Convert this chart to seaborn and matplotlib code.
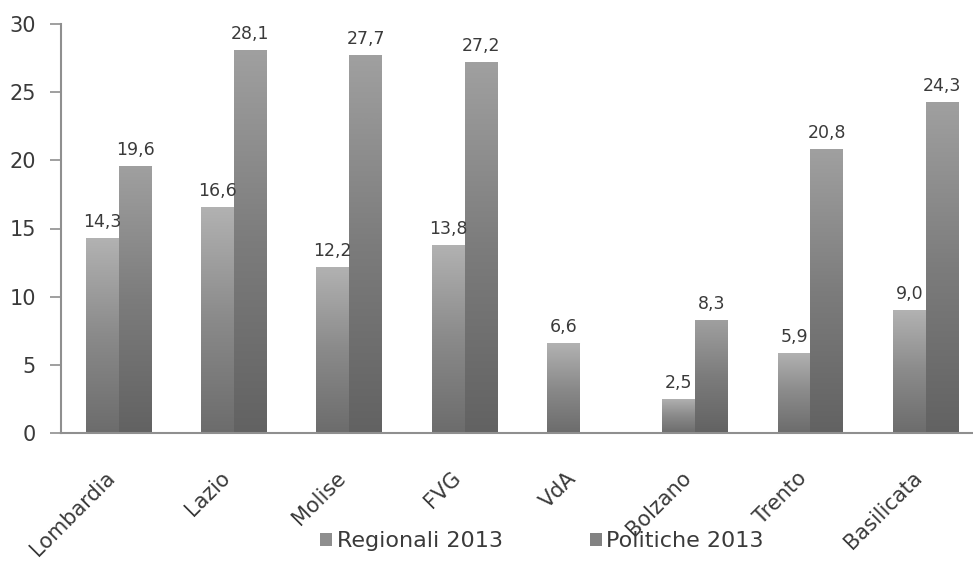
import numpy as np
import pandas as pd
import matplotlib.pyplot as plt
import seaborn as sns
from matplotlib.colors import LinearSegmentedColormap
from matplotlib.patches import Patch
from matplotlib.ticker import FixedLocator

# Dati
regioni = ['Lombardia', 'Lazio', 'Molise', 'FVG', 'VdA', 'Bolzano', 'Trento', 'Basilicata']
regionali_2013 = [14.3, 16.6, 12.2, 13.8, 6.6, 2.5, 5.9, 9.0]
politiche_2013 = [19.6, 28.1, 27.7, 27.2, np.nan, 8.3, 20.8, 24.3]
serie = ['Regionali 2013', 'Politiche 2013']

df = pd.DataFrame({
    'regione': regioni * 2,
    'serie': [serie[0]] * len(regioni) + [serie[1]] * len(regioni),
    'valore': regionali_2013 + politiche_2013,
})

sns.set_style('white')
plt.rcParams['font.family'] = ['DejaVu Sans']
testo = '#3a3a3a'
asse = '#8f8f8f'

fig = plt.figure(figsize=(9.73, 5.61), dpi=100)
ax = fig.add_axes([61 / 973, 1 - 433 / 561, 1 - 61 / 973, (433 - 24) / 561])

sns.barplot(data=df, x='regione', y='valore', hue='serie', hue_order=serie,
            order=regioni, palette=['#909090', '#808080'], width=0.57,
            dodge=True, legend=False, ax=ax, saturation=1)

# Gradiente verticale su ogni barra (chiaro in alto, scuro in basso)
cmaps = [
    LinearSegmentedColormap.from_list('reg', ['#6c6c6c', '#8a8a8a', '#b2b2b2']),
    LinearSegmentedColormap.from_list('pol', ['#626262', '#7c7c7c', '#a0a0a0']),
]
grad = np.linspace(0, 1, 256).reshape(-1, 1)
for i, cont in enumerate(ax.containers):
    for p in cont.patches:
        if np.isnan(p.get_height()) or p.get_height() == 0:
            continue
        x0, y0, x1, y1 = p.get_bbox().extents
        im = ax.imshow(grad, extent=[x0, x1, y0, y1], origin='lower', aspect='auto',
                       cmap=cmaps[i], vmin=0, vmax=1, zorder=p.get_zorder() + 0.1)
        im.set_clip_path(p)
    ax.bar_label(cont, labels=[('' if np.isnan(v) else f'{v:.1f}'.replace('.', ','))
                               for v in cont.datavalues],
                 padding=5, fontsize=12.5, color=testo)

ax.set_xlim(-0.5, -0.5 + (973 - 61) / 115.3)
ax.set_ylim(0, 30)
ax.set_yticks(range(0, 31, 5))
ax.set_xlabel('')
ax.set_ylabel('')

# tacche sui confini tra categorie
ax.xaxis.set_minor_locator(FixedLocator(np.arange(-0.5, len(regioni), 1.0)))
ax.tick_params(axis='x', which='major', length=0, pad=25, labelsize=15, labelcolor=testo)
ax.tick_params(axis='x', which='minor', length=6, width=1.2, color=asse, direction='out')
ax.tick_params(axis='y', length=8, width=1.2, color=asse, pad=10, labelsize=15,
               labelcolor=testo, left=True)
for lab in ax.get_xticklabels():
    lab.set_rotation(45)
    lab.set_ha('right')
    lab.set_va('top')

sns.despine(ax=ax, top=True, right=True)
for s in ['left', 'bottom']:
    ax.spines[s].set_color(asse)
    ax.spines[s].set_linewidth(1.5)

handles = [Patch(facecolor='#8e8e8e', edgecolor='none'),
           Patch(facecolor='#828282', edgecolor='none')]
fig.legend(handles, serie, loc='lower center', bbox_to_anchor=(0.557, -0.018),
           ncol=2, frameon=False, fontsize=16, handlelength=0.55, handleheight=0.55,
           handletextpad=0.2, columnspacing=3.9, labelcolor=testo)

fig.savefig('out.png', dpi=100)
